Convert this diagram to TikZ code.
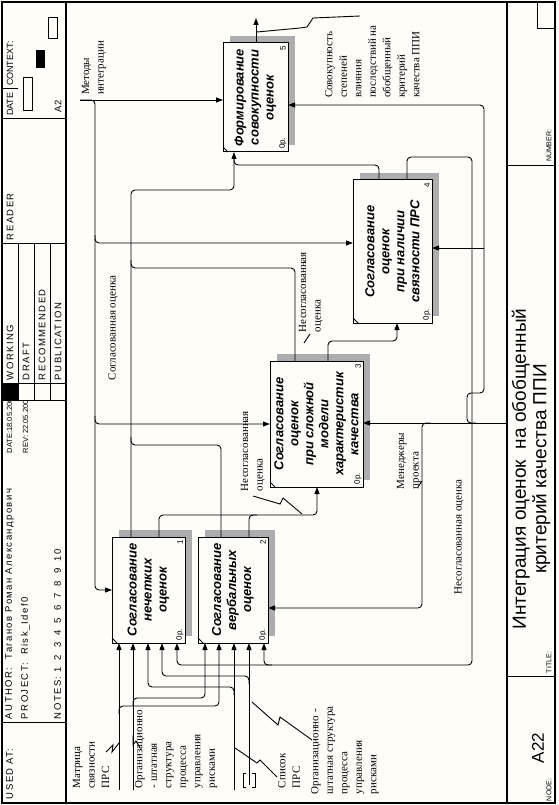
\documentclass[tikz,border=0pt]{standalone}
\usepackage{fontspec}
\setmainfont{Liberation Serif}
\newfontfamily\hdrf[LetterSpace=15]{Liberation Sans}
\newfontfamily\sansf{Liberation Sans}
\usetikzlibrary{arrows.meta}
\definecolor{bg}{RGB}{255,253,247}
\newcommand\idefbox[6]{%
  \fill[shd] (#2+7,#3-7) rectangle (#4+7,#3);
  \fill[shd] (#4,#3) rectangle (#4+7,#5-7);
  \node[bx, minimum width={(#4-#2)*1pt}, minimum height={(#5-#3)*1pt}] (#1) at ({(#2+#4)/2},{(#3+#5)/2}) {};
  \draw[ln] (#2,#5-5) -- (#2+5,#5);
  \node[tiny,anchor=east] at (#4-5,#3+3) {#6};
  \node[tiny,anchor=west] at (#4-5,#5-3) {0р.};
}
\begin{document}
\begin{tikzpicture}[x=1pt,y=-1pt,
  every node/.style={inner sep=0pt,outer sep=0pt},
  ln/.style={line width=0.9pt},
  arr/.style={ln,-{Triangle[length=7pt,width=5pt]}},
  rc/.style={rounded corners=4pt},
  frm/.style={line width=1.2pt},
  thin/.style={line width=0.8pt},
  shd/.style={fill=black!32},
  bx/.style={draw,line width=1pt,fill=bg},
  btxt/.style={rotate=90,font=\sansf\bfseries\itshape\fontsize{13}{15}\selectfont,align=center},
  lb/.style={rotate=90,font=\fontsize{11}{14.5}\selectfont,align=left,anchor=north west},
  lbc/.style={rotate=90,font=\fontsize{11}{14.5}\selectfont,align=left},
  hd/.style={rotate=90,font=\hdrf\fontsize{9.5}{10}\selectfont,anchor=west},
  hdn/.style={rotate=90,font=\sansf\fontsize{9}{10}\selectfont,anchor=west},
  hds/.style={rotate=90,font=\sansf\fontsize{7.5}{8}\selectfont,anchor=west},
  tiny/.style={rotate=90,font=\sansf\fontsize{8}{8}\selectfont},
  ft/.style={rotate=90,font=\sansf\fontsize{7}{7}\selectfont,anchor=west},
]
\useasboundingbox (0,0) rectangle (558,805);
\fill[bg] (0,0) rectangle (558,805);

% ---------- frame ----------
\draw[frm] (2,2) rectangle (555,803);
\draw[frm] (66,2) -- (66,803);
\draw[frm] (507,2) -- (507,803);

% ---------- header ----------
\draw[thin] (2,118) -- (66,118);
\draw[thin] (2,243) -- (66,243);
\draw[thin] (2,400) -- (66,400);
\draw[thin] (2,722) -- (66,722);
\draw[thin] (18,243) -- (18,400);
\draw[thin] (34,243) -- (34,400);
\draw[thin] (50,243) -- (50,400);
\draw[thin] (2,383) -- (66,383);
\draw[thin] (2,88) -- (18,88);
\fill (2,383) rectangle (18,400);
\node[hd] at (9.5,799) {USED AT:};
\node[hd] at (9.5,719) {AUTHOR:\ \ Таганов Роман Александрович};
\node[hd] at (25.5,719) {PROJECT:\ \ Risk\_Idef0};
\node[hd] at (57.5,719) {NOTES:\ 1\hspace{3pt} 2\hspace{3pt} 3\hspace{3pt} 4\hspace{3pt} 5\hspace{3pt} 6\hspace{3pt} 7\hspace{3pt} 8\hspace{3pt} 9\hspace{3pt} 10};
\begin{scope}
  \clip (2,401) rectangle (66,721);
  \node[hds] at (9.5,453) {DATE:18.05.2002};
  \node[hds] at (25.5,453) {REV:\ 22.05.2002};
\end{scope}
\node[hd] at (10,380) {WORKING};
\node[hd] at (26,380) {DRAFT};
\node[hd] at (42,380) {RECOMMENDED};
\node[hd] at (58,380) {PUBLICATION};
\node[hd] at (10,240) {READER};
\node[hdn] at (10,116) {DATE};
\node[hdn] at (10,86) {CONTEXT:};
\node[hd] at (58,113) {A2};
\draw[thin] (23,77) rectangle (32,110);
\fill (36,50) rectangle (45,68);
\draw[thin] (48,17) rectangle (57,38);

% ---------- title block ----------
\draw[thin] (507,676) -- (555,676);
\draw[thin] (507,165) -- (555,165);
\draw[thin] (537,2) rectangle (555,28);
\node[ft] at (549,801) {NODE:};
\node[ft] at (549,673) {TITLE:};
\node[ft] at (549,162) {NUMBER:};
\node[rotate=90,font=\sansf\fontsize{17}{17}\selectfont] at (538,748) {A22};
\node[rotate=90,font=\sansf\fontsize{19}{20.5}\selectfont,align=center] at (531,469) {Интеграция оценок\ \ на обобщенный\\критерий качества ППИ};

% ---------- boxes ----------
\idefbox{b1}{112}{537}{185}{643}{1}
\idefbox{b2}{198}{537}{268}{643}{2}
\idefbox{b3}{270}{361}{363}{487}{3}
\idefbox{b4}{353}{180}{432}{323}{4}
\idefbox{b5}{223}{43}{288}{152}{5}
\node[btxt] at (b1) {Согласование\\нечетких\\оценок};
\node[btxt] at (b2) {Согласование\\вербальных\\оценок};
\node[btxt] at (b3) {Согласование\\оценок\\при сложной\\модели\\характеристик\\качества};
\node[btxt] at (b4) {Согласование\\оценок\\при наличии\\связности ПРС};
\node[btxt] at (b5) {Формирование\\совокупности\\оценок};

% ---------- controls: Методы интеграции ----------
\coordinate (mi) at (80,100);
\draw[arr] (mi) -- (b5.west |- 0,100);
\draw[arr,rc] (mi) -- (95,100) -- (95,590) -- (b1.west |- 0,590);
\draw[arr,rc] (95,235) -- (95,243) -- (b4.west |- 0,243);
\draw[arr,rc] (95,416) -- (95,424) -- (b3.west |- 0,424);
\node[lb] at (82,95) {Методы\\интеграции};

% ---------- Согласованная оценка ----------
\draw[arr,rc] (b1.north -| 131,0) -- (131,190) -- (234,190) -- (b5.south -| 234,0);
\draw[ln,rc] (b2.north -| 221,0) -- (221,445) -- (131,445) -- (131,437);
\draw[ln,rc] (b3.north -| 295,0) -- (295,268) -- (131,268) -- (131,260);
\draw[ln,rc] (b4.north -| 379,0) -- (379,165) -- (234,165) -- (234,158);
\node[lbc] at (113,328) {Согласованная оценка};

% ---------- Несогласованная оценка -> box 3 ----------
\draw[arr,rc] (b1.north -| 159,0) -- (159,515) -- (317,515) -- (b3.south -| 317,0);
\draw[ln,rc] (b2.north -| 249,0) -- (249,515) -- (257,515);
\node[lb] at (241,491) {Несогласованная\\оценка};
\draw[ln] (253,496) -- (280,504) -- (283,498) -- (302,514);

% ---------- box 3 -> box 4 ----------
\draw[arr,rc] (b3.north -| 328,0) -- (328,341) -- (397,341) -- (b4.south -| 397,0);
\node[lb] at (299,332) {Несогласованная\\оценка};
\draw[ln] (304,343) -- (310,334);

% ---------- feedback from box 4 ----------
\draw[arr,rc] (b4.north -| 407,0) -- (407,157) -- (472,157) -- (472,665) -- (264,665) -- (b2.south -| 264,0);
\draw[arr,rc] (272,665) -- (177,665) -- (b1.south -| 177,0);
\node[lbc] at (459,537) {Несогласованная оценка};

% ---------- output of box 5 ----------
\draw[arr] (b5.north -| 256,0) -- (256,18);
\draw[ln] (257,32) -- (300,28) -- (307,27) -- (313,18) -- (360,16);
\node[lb] at (325,98) {Совокупность\\степеней\\влияния\\последствий на\\обобщенный\\критерий\\качества ППИ};

% ---------- mechanisms: Менеджеры проекта ----------
\coordinate (mp) at (507,423);
\draw[arr] (mp) -- (b3.east |- 0,423);
\draw[arr,rc] (476,423) -- (467,423) -- (467,393) -- (484,393) -- (484,105) -- (b5.east |- 0,105);
\draw[arr] (484,248) -- (b4.east |- 0,248);
\draw[arr,rc] (430,423) -- (422,423) -- (422,608) -- (b2.east |- 0,608);
\node[lb] at (397,489) {Менеджеры\\проекта};
\draw[ln] (418,487) -- (422,481);

% ---------- inputs ----------
\draw[arr] (119,790) -- (b1.south -| 119,0);
\draw[arr,rc] (119,714) -- (119,706) -- (219,706) -- (b2.south -| 219,0);
\draw[arr] (133,790) -- (b1.south -| 133,0);
\draw[arr,rc] (133,706) -- (133,698) -- (205,698) -- (b2.south -| 205,0);
\draw[arr] (234,790) -- (b2.south -| 234,0);
\draw[arr,rc] (234,695) -- (234,687) -- (148,687) -- (b1.south -| 148,0);
\draw[arr] (249,785) -- (b2.south -| 249,0);
\draw[arr,rc] (249,684) -- (249,676) -- (162,676) -- (b1.south -| 162,0);
\draw[thin] (246,773) -- (243,773) -- (243,787) -- (246,787);
\draw[thin] (252,773) -- (255,773) -- (255,787) -- (252,787);

\node[lb] at (73,788) {Матрица\\связности\\ПРС};
\draw[ln] (106,752) -- (113,745) -- (112,752) -- (119,743);
\node[lb] at (135,788) {Организационно\\- штатная\\структура\\процесса\\управления\\рисками};
\draw[ln] (140,748) -- (136,741) -- (133,745) -- (133,735);
\node[lb] at (278,788) {Список\\ПРС};
\draw[ln] (277,777) -- (260,760) -- (257,763) -- (235,748);
\node[lb] at (311,794) {Организационно -\\штатная структура\\процесса\\управления\\рисками};
\draw[ln] (312,740) -- (280,717) -- (278,725) -- (252,702);
\end{tikzpicture}
\end{document}
